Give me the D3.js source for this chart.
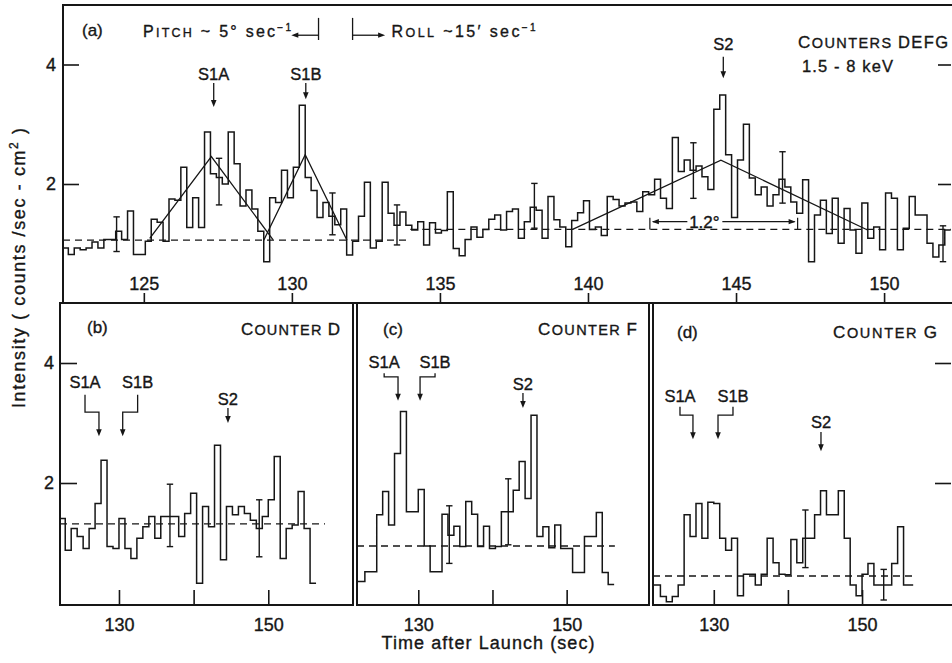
<!DOCTYPE html>
<html><head><meta charset="utf-8">
<script src="https://cdn.jsdelivr.net/npm/d3@7"></script>
<style>
body{margin:0;background:#fff}
text{font-family:"Liberation Sans",Arial,sans-serif;fill:#161616;stroke:#161616;stroke-width:0.35px}
</style></head><body>
<svg id="chart" width="952" height="663"></svg>
<script>
// ================= DATA =================
// (a) counters DEFG, 1.5-8 keV : 0.2 s bins
const topStart = 122.25, topBinWidth = 0.2;
const topCounts = [
0.93,0.82,0.93,0.90,0.93,1.03,0.93,1.07,1.07,1.21,1.07,1.55,0.82,0.82,
1.04,1.41,1.36,1.04,1.75,1.73,2.28,1.27,1.77,1.27,2.87,2.17,2.11,2.00,2.87,2.34,
1.63,1.90,1.58,1.21,0.70,1.77,1.69,2.23,1.77,2.28,3.32,2.11,1.89,1.44,1.69,1.46,
1.32,1.58,0.81,1.04,1.46,2.03,0.93,1.04,2.03,
1.51,1.31,1.53,1.31,1.23,1.37,0.98,1.35,1.18,1.22,1.87,0.92,0.80,1.07,1.28,1.11,
1.24,1.41,1.48,1.23,1.54,1.58,1.09,1.37,1.61,1.56,1.09,1.79,1.40,1.28,0.95,1.39,
1.52,1.72,1.24,1.28,1.14,1.79,1.74,1.63,
1.68,1.70,1.54,1.87,1.82,2.08,1.76,1.59,2.78,2.21,2.40,2.23,2.30,2.12,1.91,3.25,
3.49,2.49,1.44,2.40,3.00,2.10,1.82,1.95,1.63,1.82,2.08,1.95,1.70,1.51,2.07,0.70,
1.48,1.73,1.17,1.76,1.01,1.59,1.23,0.84,1.68,1.09,1.28,0.90,1.85,1.76,0.90,1.26,
1.79,1.48,1.48,1.01,0.78,0.98,1.23
];
const topErrT  = [124.08,127.54,131.37,133.55,138.19,143.56,146.57,151.99];
const topErrHi = [1.45,2.43,1.85,1.65,2.01,2.69,2.54,1.30];
const topErrLo = [0.87,1.65,1.15,0.98,1.26,1.76,1.68,0.70];
const topBgBreaks = [122.27,134.0,152.3];
const topBgLevels = [1.06,1.24];
const fitNames = ["S1A","S1B","S2"];
const fitT = [[125.2,127.28,129.36],[129.05,130.45,131.86],[139.48,144.49,149.44]];
const fitV = [[1.09,2.46,1.07],[1.06,2.49,1.06],[1.24,2.40,1.23]];
const topTicks = [125,130,135,140,145,150];
const yTicks = [2,4];
const widthLabelT = [142.09,143.93,147.08]; // 1.2° beam width marker
const widthLabelV = 1.37;

// (b)(c)(d) single counters : 0.8 s bins
const bottomStart = 121.2, bottomBinWidth = 0.8;
const counterD = [1.41,1.41,0.88,1.24,1.11,0.91,1.24,1.66,2.38,0.94,0.91,1.41,0.91,0.74,1.08,1.27,1.44,1.08,1.44,1.44,
  1.44,1.11,1.49,1.83,0.33,1.61,1.27,2.63,0.72,1.61,1.47,1.61,1.49,1.38,1.24,1.44,1.72,2.44,0.74,1.24,1.30,1.86,1.24,0.33];
const counterF = [0.36,0.36,0.52,0.52,1.47,1.86,1.30,2.49,3.19,1.52,1.52,1.89,0.95,0.52,0.52,1.48,1.13,1.28,0.94,1.69,
  1.48,0.94,1.28,0.91,0.94,1.52,1.52,1.88,2.36,1.74,3.13,1.11,1.27,0.92,1.30,0.91,0.91,0.51,0.51,1.11,1.11,1.51,0.51,0.31];
const counterG = [0.30,0.30,0.11,0.02,0.11,0.30,1.47,1.11,1.66,1.08,1.68,1.66,1.08,0.88,1.08,0.12,0.48,0.48,0.30,0.48,
  1.08,0.67,0.48,0.47,1.06,0.67,1.08,1.08,1.47,1.87,1.47,1.47,1.87,1.08,0.30,0.12,0.48,0.66,0.30,0.30,0.30,0.66,1.27,0.30];
const bottomEnds = [156.4,156.4,156.9];
const bottomBg = [1.32,0.95,0.45];
const bottomBgEnd = [157.6,156.5,156.9];
const bottomErrT  = [[136.83,148.79],[134.18,142.13],[142.36,152.92]];
const bottomErrHi = [[1.98,1.72],[1.62,2.07],[1.55,0.56]];
const bottomErrLo = [[0.94,0.77],[0.66,0.97],[0.59,0.05]];
const bottomTicks = [130,140,150];
const panelTags = ["(b)","(c)","(d)"];
const counterNames = ["D","F","G"];
// source marker times per panel: S1A, S1B, S2
const markTip = [[127.32,130.5,144.6],[127.27,130.24,144.11],[127.19,130.57,144.46]];
const markLabel = [[125.45,132.5],[125.4,132.26],[125.44,132.59]];

// ================= DRAWING =================
const svg = d3.select("#chart");
const INK = "#161616";
const defs = svg.append("defs");
function addClip(id,x0,y0,x1,y1){defs.append("clipPath").attr("id",id).append("rect")
  .attr("x",x0).attr("y",y0).attr("width",x1-x0).attr("height",y1-y0);}
function stepPoints(start,w,vals,end){
  const p = vals.map((v,i)=>[start+i*w,v]);
  p.push([end!==undefined?end:start+vals.length*w, vals[vals.length-1]]);
  return p;
}
function stepLine(x,y){return d3.line().x(d=>x(d[0])).y(d=>y(d[1])).curve(d3.curveStepAfter);}
function errorBars(g,x,y,ts,hi,lo){
  ts.forEach((t,i)=>{
    const xx=x(t);
    g.append("line").attr("x1",xx).attr("x2",xx).attr("y1",y(lo[i])).attr("y2",y(hi[i])).attr("stroke-width",1.4);
    [hi[i],lo[i]].forEach(v=>g.append("line").attr("x1",xx-3.2).attr("x2",xx+3.2).attr("y1",y(v)).attr("y2",y(v)).attr("stroke-width",1.4));
  });
}
function head(g,x,y,dir){
  let d;
  if(dir==="down") d=`M${x-2.8},${y-7}L${x+2.8},${y-7}L${x},${y}Z`;
  else if(dir==="left") d=`M${x+7},${y-2.6}L${x+7},${y+2.6}L${x},${y}Z`;
  else d=`M${x-7},${y-2.6}L${x-7},${y+2.6}L${x},${y}Z`;
  g.append("path").attr("d",d).attr("fill",INK).attr("stroke","none");
}
function richText(g,x,y,parts,len,anchor){
  const t=g.append("text").attr("x",x).attr("y",y).attr("text-anchor",anchor||"start");
  let shift=0;
  parts.forEach(p=>{
    const ts=t.append("tspan").text(p[0]).attr("font-size",p[1]);
    const want=p[2]||0;
    if(want!==shift){ts.attr("dy",want-shift);shift=want;}
  });
  if(len) t.attr("textLength",len).attr("lengthAdjust","spacing");
  return t;
}
function styleAxis(g,fs){
  g.select(".domain").remove();
  g.selectAll("line").attr("stroke",INK).attr("stroke-width",1.6);
  g.selectAll("text").attr("font-size",fs).attr("fill",INK).attr("font-family","Liberation Sans, Arial, sans-serif");
}

// ---------- TOP PANEL (a) ----------
const xT = d3.scaleLinear().domain([122.27,152.26]).range([63,951]);
const yT = d3.scaleLinear().domain([0,5]).range([303.5,4.75]);
addClip("clipTop",63,5,951,303);
const gT = svg.append("g");
gT.append("rect").attr("x",63).attr("y",5).attr("width",891).attr("height",298)
  .attr("fill","none").attr("stroke",INK).attr("stroke-width",2);

const gTD = gT.append("g").attr("clip-path","url(#clipTop)")
  .attr("stroke",INK).attr("fill","none");
gTD.append("path").datum(stepPoints(topStart,topBinWidth,topCounts))
  .attr("d",stepLine(xT,yT)).attr("stroke-width",1.5);
topBgLevels.forEach((lv,i)=>{
  gTD.append("line").attr("x1",xT(topBgBreaks[i])).attr("x2",xT(topBgBreaks[i+1]))
    .attr("y1",yT(lv)).attr("y2",yT(lv)).attr("stroke-width",1.3).attr("stroke-dasharray","7,5");
});
fitT.forEach((ts,i)=>{
  gTD.append("path").datum(ts.map((t,j)=>[t,fitV[i][j]]))
    .attr("d",d3.line().x(d=>xT(d[0])).y(d=>yT(d[1]))).attr("stroke-width",1.3);
});
errorBars(gTD,xT,yT,topErrT,topErrHi,topErrLo);

// 1.2° beam-width marker
{
  const y = yT(widthLabelV), yb = yT(topBgLevels[1]);
  const xl = xT(widthLabelT[0]), xc = xT(widthLabelT[1]), xr = xT(widthLabelT[2]);
  [xl,xr].forEach(xx=>gT.append("line").attr("x1",xx).attr("x2",xx).attr("y1",y-4).attr("y2",yb)
    .attr("stroke",INK).attr("stroke-width",1.2));
  gT.append("line").attr("x1",xl+3).attr("x2",xc-17).attr("y1",y).attr("y2",y).attr("stroke",INK).attr("stroke-width",1.2);
  gT.append("line").attr("x1",xc+18).attr("x2",xr-3).attr("y1",y).attr("y2",y).attr("stroke",INK).attr("stroke-width",1.2);
  head(gT,xl+2,y,"left"); head(gT,xr-2,y,"right");
  gT.append("text").attr("x",xc).attr("y",y+6).attr("text-anchor","middle").attr("font-size",17).text("1.2°");
}

// axes of top panel
const axTop = gT.append("g").attr("transform","translate(0,303)")
  .call(d3.axisTop(xT).tickValues(topTicks).tickSize(10).tickPadding(3).tickFormat(d3.format("d")));
styleAxis(axTop,18);
const axTL = gT.append("g").attr("transform","translate(63,0)")
  .call(d3.axisLeft(yT).tickValues(yTicks).tickSize(-16).tickPadding(7).tickFormat(d3.format("d")));
styleAxis(axTL,18);
const axTR = gT.append("g").attr("transform","translate(951,0)")
  .call(d3.axisRight(yT).tickValues(yTicks).tickSize(-13).tickFormat(""));
styleAxis(axTR,18);

// labels of top panel
gT.append("text").attr("x",82).attr("y",36).attr("font-size",17).text("(a)");
richText(gT,143,37,[["P",16],["ITCH",12.5],[" ~ 5° sec",16],["−1",10,-6],["",16,0]],148);
richText(gT,xT(133.3)+2,37,[["R",16],["OLL",12.5],["  ~15′ sec",16],["−1",10,-6],["",16,0]],144);
{
  const ya=yT(4.49);
  const xb1=xT(130.9), xa1=xT(129.98);
  gT.append("line").attr("x1",xb1).attr("x2",xb1).attr("y1",yT(4.78)).attr("y2",yT(4.41)).attr("stroke",INK).attr("stroke-width",1.3);
  gT.append("line").attr("x1",xa1+3).attr("x2",xb1).attr("y1",ya).attr("y2",ya).attr("stroke",INK).attr("stroke-width",1.3);
  head(gT,xa1,ya,"left");
  const xb2=xT(132.05), xa2=xT(133.15);
  gT.append("line").attr("x1",xb2).attr("x2",xb2).attr("y1",yT(4.78)).attr("y2",yT(4.41)).attr("stroke",INK).attr("stroke-width",1.3);
  gT.append("line").attr("x1",xb2).attr("x2",xa2-3).attr("y1",ya).attr("y2",ya).attr("stroke",INK).attr("stroke-width",1.3);
  head(gT,xa2,ya,"right");
}
// source markers in top panel
const topMarkT=[127.36,130.47,144.57], topMarkLab=[3.74,3.74,4.24], topMarkA=[[3.69,3.29],[3.69,3.42],[4.13,3.77]];
fitNames.forEach((n,i)=>{
  const xx=xT(topMarkT[i]);
  gT.append("text").attr("x",xx).attr("y",yT(topMarkLab[i])).attr("text-anchor","middle").attr("font-size",16.5).text(n);
  gT.append("line").attr("x1",xx).attr("x2",xx).attr("y1",yT(topMarkA[i][0])).attr("y2",yT(topMarkA[i][1])-4)
    .attr("stroke",INK).attr("stroke-width",1.3);
  head(gT,xx,yT(topMarkA[i][1]),"down");
});
richText(gT,798,48,[["C",17],["OUNTERS ",14.5],["DEFG",16.5]],150);
gT.append("text").attr("x",802).attr("y",72).attr("font-size",16.5).attr("textLength",91)
  .attr("lengthAdjust","spacing").text("1.5 - 8 keV");

// ---------- BOTTOM PANELS ----------
const yB = d3.scaleLinear().domain([0,5]).range([603,303]);
const panels = [
  {x0:60,x1:353,frameR:353,dom:[122.1,161.35],vals:counterD},
  {x0:357,x1:649,frameR:649,dom:[121.74,161.1],vals:counterF},
  {x0:653,x1:951,frameR:954,dom:[121.8,162.0],vals:counterG}
];
// panel-specific annotation levels (intensity units)
const labLev = [[3.58,3.47,3.18,2.78, 3.30,3.25,3.00],
                [3.92,3.83,3.77,3.37, 3.55,3.50,3.25],
                [3.35,3.27,3.13,2.73, 2.92,2.85,2.53]];
const tagPos = [[87,333,340,335],[383,335,637,335],[677,338,937,338]];
panels.forEach((p,i)=>{
  const x = d3.scaleLinear().domain(p.dom).range([p.x0,p.x1]);
  const g = svg.append("g");
  addClip("clipB"+i,p.x0,303,p.x1,605);
  g.append("rect").attr("x",p.x0).attr("y",303).attr("width",p.frameR-p.x0).attr("height",302)
    .attr("fill","none").attr("stroke",INK).attr("stroke-width",2);
  const gd = g.append("g").attr("clip-path",`url(#clipB${i})`).attr("stroke",INK).attr("fill","none");
  gd.append("path").datum(stepPoints(bottomStart,bottomBinWidth,p.vals,bottomEnds[i]))
    .attr("d",stepLine(x,yB)).attr("stroke-width",1.5);
  gd.append("line").attr("x1",p.x0).attr("x2",x(bottomBgEnd[i])).attr("y1",yB(bottomBg[i])).attr("y2",yB(bottomBg[i]))
    .attr("stroke-width",1.3).attr("stroke-dasharray","7,5");
  errorBars(gd,x,yB,bottomErrT[i],bottomErrHi[i],bottomErrLo[i]);

  const ax = g.append("g").attr("transform","translate(0,605)")
    .call(d3.axisBottom(x).tickValues(bottomTicks).tickSizeInner(-15).tickSizeOuter(0).tickPadding(13)
      .tickFormat(d=>d===140?"":d));
  styleAxis(ax,18);
  if(i===0){
    const al = g.append("g").attr("transform",`translate(${p.x0},0)`)
      .call(d3.axisLeft(yB).tickValues(yTicks).tickSize(-17).tickPadding(6).tickFormat(d3.format("d")));
    styleAxis(al,18);
  }
  if(i===2){
    const ar = g.append("g").attr("transform",`translate(951,0)`)
      .call(d3.axisRight(yB).tickValues(yTicks).tickSize(-16).tickFormat(""));
    styleAxis(ar,18);
  }
  // tags
  const tp = tagPos[i];
  g.append("text").attr("x",tp[0]).attr("y",tp[1]).attr("font-size",17).text(panelTags[i]);
  richText(g,tp[2],tp[3],[["C",17],["OUNTER ",14.5],[counterNames[i],17]],i===2?104:99,"end");
  // source markers
  const L = labLev[i], tips = markTip[i], labs = markLabel[i];
  ["S1A","S1B"].forEach((n,k)=>{
    const xl=x(labs[k]), xt=x(tips[k]);
    g.append("text").attr("x",xl).attr("y",yB(L[0])).attr("text-anchor","middle").attr("font-size",16.5).text(n);
    g.append("path").attr("d",`M${xl},${yB(L[1])}V${yB(L[2])}H${xt}V${yB(L[3])-4}`)
      .attr("fill","none").attr("stroke",INK).attr("stroke-width",1.3);
    head(g,xt,yB(L[3]),"down");
  });
  const xs=x(tips[2]);
  g.append("text").attr("x",xs).attr("y",yB(L[4])).attr("text-anchor","middle").attr("font-size",16.5).text("S2");
  g.append("line").attr("x1",xs).attr("x2",xs).attr("y1",yB(L[5])).attr("y2",yB(L[6])-4).attr("stroke",INK).attr("stroke-width",1.3);
  head(g,xs,yB(L[6]),"down");
});

// ---------- AXIS TITLES ----------
svg.append("text").attr("x",488).attr("y",649).attr("text-anchor","middle").attr("font-size",18)
  .attr("textLength",213).attr("lengthAdjust","spacing").text("Time after Launch (sec)");
{
  const t = svg.append("text").attr("transform","translate(25,268) rotate(-90)").attr("text-anchor","middle")
    .attr("font-size",18).attr("textLength",280).attr("lengthAdjust","spacing");
  t.append("tspan").text("Intensity ( counts /sec - cm");
  t.append("tspan").text("2").attr("font-size",12).attr("dy",-7);
  t.append("tspan").text(" )").attr("dy",7);
}
</script>
</body></html>
